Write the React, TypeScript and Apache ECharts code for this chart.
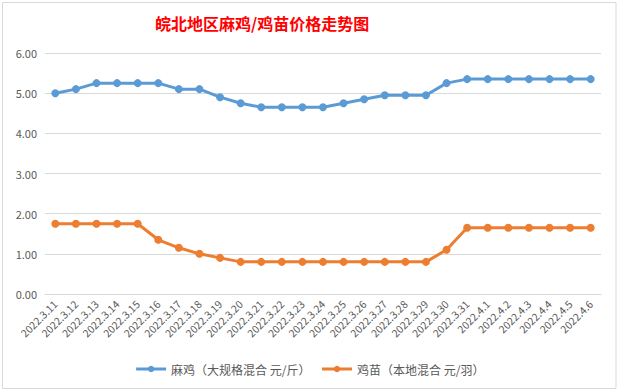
import React, { useEffect, useRef } from "react";
import * as echarts from "echarts";

const categories = [
  "2022.3.11", "2022.3.12", "2022.3.13", "2022.3.14", "2022.3.15", "2022.3.16",
  "2022.3.17", "2022.3.18", "2022.3.19", "2022.3.20", "2022.3.21", "2022.3.22",
  "2022.3.23", "2022.3.24", "2022.3.25", "2022.3.26", "2022.3.27", "2022.3.28",
  "2022.3.29", "2022.3.30", "2022.3.31", "2022.4.1", "2022.4.2", "2022.4.3",
  "2022.4.4", "2022.4.5", "2022.4.6",
];

const majiValues = [
  5.0, 5.1, 5.25, 5.25, 5.25, 5.25, 5.1, 5.1, 4.9, 4.75, 4.65, 4.65, 4.65, 4.65,
  4.75, 4.85, 4.95, 4.95, 4.95, 5.25, 5.35, 5.35, 5.35, 5.35, 5.35, 5.35, 5.35,
];

const jimiaoValues = [
  1.75, 1.75, 1.75, 1.75, 1.75, 1.35, 1.15, 1.0, 0.9, 0.8, 0.8, 0.8, 0.8, 0.8,
  0.8, 0.8, 0.8, 0.8, 0.8, 1.1, 1.65, 1.65, 1.65, 1.65, 1.65, 1.65, 1.65,
];

const seriesNames = ["麻鸡（大规格混合 元/斤）", "鸡苗（本地混合 元/羽）"];
const titleText = "皖北地区麻鸡/鸡苗价格走势图";

export default function App() {
  const ref = useRef<HTMLDivElement>(null);

  useEffect(() => {
    if (!ref.current) return;
    const chart = echarts.init(ref.current, undefined, { renderer: "svg" });
    const font = "'Microsoft YaHei', 'Noto Sans CJK SC', sans-serif";
    chart.setOption({
      animation: false,
      backgroundColor: "#ffffff",
      textStyle: { fontFamily: font },
      title: {
        text: titleText,
        left: 150,
        top: 10,
        textStyle: {
          color: "#ff0000",
          fontSize: 16,
          fontWeight: "bold",
          fontFamily: "'Noto Sans CJK SC', sans-serif",
        },
      },
      graphic: [
        {
          type: "rect",
          shape: { x: 2.5, y: 2.5, width: 613.5, height: 386 },
          style: { fill: "none", stroke: "#d9d9d9", lineWidth: 1 },
          silent: true,
        },
      ],
      legend: {
        bottom: 12,
        left: "center",
        itemWidth: 30,
        itemHeight: 8,
        itemGap: 10,
        lineStyle: { width: 3 },
        textStyle: { color: "#595959", fontSize: 12, fontFamily: font },
        data: seriesNames,
      },
      grid: { left: 45, right: 18, top: 53, bottom: 98, containLabel: false },
      xAxis: {
        type: "category",
        data: categories,
        boundaryGap: true,
        axisLine: { show: true, lineStyle: { color: "#d9d9d9" } },
        axisTick: { show: false },
        axisLabel: {
          rotate: 45,
          interval: 0,
          color: "#595959",
          fontSize: 10.5,
          margin: 8,
        },
      },
      yAxis: {
        type: "value",
        min: 0,
        max: 6,
        interval: 1,
        axisLine: { show: false },
        axisTick: { show: false },
        splitLine: { lineStyle: { color: "#d9d9d9" } },
        axisLabel: {
          color: "#595959",
          fontSize: 11,
          margin: 8,
          formatter: (v: number) => v.toFixed(2),
        },
      },
      series: [
        {
          name: seriesNames[0],
          type: "line",
          data: majiValues,
          symbol: "circle",
          symbolSize: 8,
          lineStyle: { color: "#5b9bd5", width: 3 },
          itemStyle: { color: "#5b9bd5" },
        },
        {
          name: seriesNames[1],
          type: "line",
          data: jimiaoValues,
          symbol: "circle",
          symbolSize: 8,
          lineStyle: { color: "#ed7d31", width: 3 },
          itemStyle: { color: "#ed7d31" },
        },
      ],
    });
    return () => chart.dispose();
  }, []);

  return (
    <div
      ref={ref}
      style={{ position: "fixed", left: 0, top: 0, width: 619, height: 392 }}
    />
  );
}
